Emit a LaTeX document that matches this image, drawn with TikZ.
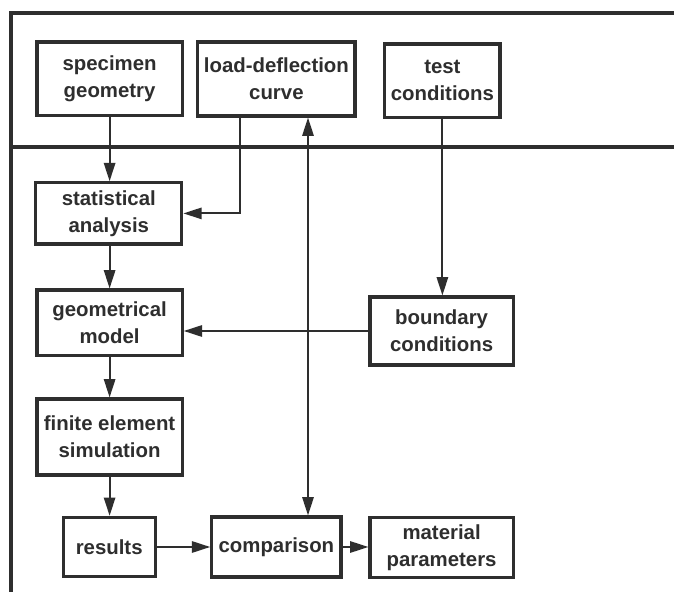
\documentclass[tikz,border=0pt]{standalone}
\usepackage{fontspec}
\setmainfont{Liberation Sans}
\usepackage{tikz}
\usetikzlibrary{arrows.meta, positioning, calc}
\definecolor{inkgray}{rgb}{0.18,0.18,0.18}
\tikzset{
  stepbox/.style={draw=inkgray, line width=2.2pt, text=inkgray, align=center,
    font=\fontsize{14.5}{19}\selectfont\bfseries, inner sep=0pt},
  flow/.style={draw=inkgray, line width=1.4pt, -{Triangle[length=13pt,width=8pt]}},
  frameline/.style={draw=inkgray, line width=3pt}
}
\begin{document}
\begin{tikzpicture}
\useasboundingbox[fill=white] (0,0) rectangle (16.85,14.975);
\draw[frameline] (0.275,0.175) -- (0.275,14.65) -- (16.85,14.65);
\draw[frameline] (0.275,11.3) -- (16.85,11.3);
\node (spec)[stepbox, minimum width=3.63cm, minimum height=1.83cm] at (2.74,13.01){specimen\\geometry};
\node (load)[stepbox, minimum width=3.93cm, minimum height=1.85cm] at (6.91,13.0){load-deflection\\curve};
\node (test)[stepbox, minimum width=2.88cm, minimum height=1.83cm] at (11.06,12.96){test\\conditions};
\node (stat)[stepbox, minimum width=3.65cm, minimum height=1.53cm] at (2.72,9.64){statistical\\analysis};
\node (geom)[stepbox, minimum width=3.63cm, minimum height=1.63cm] at (2.74,6.91){geometrical\\model};
\node (bound)[stepbox, minimum width=3.58cm, minimum height=1.70cm] at (11.04,6.70){boundary\\conditions};
\node (fem)[stepbox, minimum width=3.63cm, minimum height=1.90cm] at (2.74,4.05){finite element\\simulation};
\node (res)[stepbox, minimum width=2.30cm, minimum height=1.48cm] at (2.73,1.30){results};
\node (comp)[stepbox, minimum width=3.23cm, minimum height=1.50cm] at (6.91,1.30){comparison};
\node (mat)[stepbox, minimum width=3.58cm, minimum height=1.50cm] at (11.04,1.28){material\\parameters};
\coordinate (lx) at (6.0,0);
\coordinate (dx) at (7.7,0);
\draw[flow] (spec.south) -- (stat.north -| spec.south);
\draw[flow] (load.south -| lx) |- (stat.east);
\draw[flow, {Triangle[length=13pt,width=8pt]}-{Triangle[length=13pt,width=8pt]}] (load.south -| dx) -- (comp.north -| dx);
\draw[flow] (test.south) -- (bound.north -| test.south);
\draw[flow] (bound.west) -- (geom.east |- bound.west);
\draw[flow] (stat.south -| geom.north) -- (geom.north);
\draw[flow] (geom) -- (fem);
\draw[flow] (fem.south) -- (res.north -| fem.south);
\draw[flow] (res.east) -- (comp.west |- res.east);
\draw[flow] (comp.east) -- (mat.west |- comp.east);
\end{tikzpicture}
\end{document}
